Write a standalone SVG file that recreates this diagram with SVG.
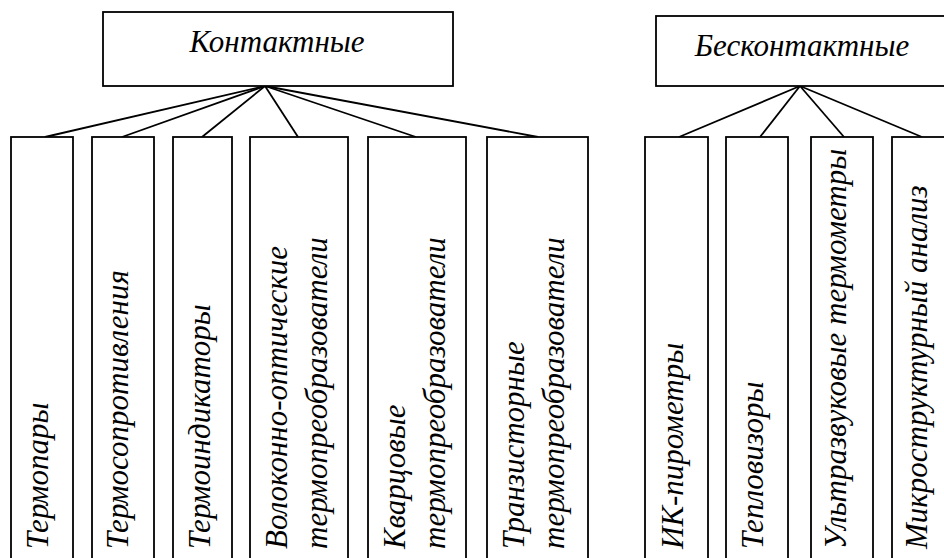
<svg xmlns="http://www.w3.org/2000/svg" width="944" height="558" viewBox="0 0 944 558">
<rect width="944" height="558" fill="#fff"/>
<g id="connectors" stroke="#000" stroke-width="1.8" fill="none">
<line x1="265" y1="86" x2="45" y2="137"/>
<line x1="265" y1="86" x2="122" y2="137"/>
<line x1="265" y1="86" x2="202" y2="137"/>
<line x1="265" y1="86" x2="298" y2="137"/>
<line x1="265" y1="86" x2="416" y2="137"/>
<line x1="265" y1="86" x2="538" y2="137"/>
<line x1="800" y1="86" x2="679" y2="137"/>
<line x1="800" y1="86" x2="760" y2="137"/>
<line x1="800" y1="86" x2="844" y2="137"/>
<line x1="800" y1="86" x2="922" y2="137"/>
</g>
<g id="contact">
<rect x="103" y="12" width="350" height="74" fill="#fff" stroke="#000" stroke-width="1.8"/>
<text x="277" y="52" text-anchor="middle" font-family="Times New Roman" font-style="italic" font-size="31" fill="#000">Контактные</text>
</g>
<g id="noncontact">
<rect x="656" y="16" width="300" height="70" fill="#fff" stroke="#000" stroke-width="1.8"/>
<text x="802" y="56" text-anchor="middle" font-family="Times New Roman" font-style="italic" font-size="31" fill="#000">Бесконтактные</text>
</g>
<g id="n1">
<rect x="11" y="137" width="62" height="440" fill="#fff" stroke="#000" stroke-width="1.8"/>
<text transform="translate(48,549) rotate(-90)" font-family="Times New Roman" font-style="italic" font-size="31" fill="#000">Термопары</text>
</g>
<g id="n2">
<rect x="92" y="137" width="62" height="440" fill="#fff" stroke="#000" stroke-width="1.8"/>
<text transform="translate(128,549) rotate(-90)" font-family="Times New Roman" font-style="italic" font-size="31" fill="#000">Термосопротивления</text>
</g>
<g id="n3">
<rect x="173" y="137" width="59" height="440" fill="#fff" stroke="#000" stroke-width="1.8"/>
<text transform="translate(210,549) rotate(-90)" font-family="Times New Roman" font-style="italic" font-size="31" fill="#000">Термоиндикаторы</text>
</g>
<g id="n4">
<rect x="250" y="137" width="98" height="440" fill="#fff" stroke="#000" stroke-width="1.8"/>
<text transform="translate(287,549) rotate(-90)" font-family="Times New Roman" font-style="italic" font-size="31" fill="#000">Волоконно-оптические</text>
<text transform="translate(327,549) rotate(-90)" font-family="Times New Roman" font-style="italic" font-size="31" fill="#000">термопреобразователи</text>
</g>
<g id="n5">
<rect x="368" y="137" width="98" height="440" fill="#fff" stroke="#000" stroke-width="1.8"/>
<text transform="translate(405,549) rotate(-90)" font-family="Times New Roman" font-style="italic" font-size="31" fill="#000">Кварцовые</text>
<text transform="translate(445,549) rotate(-90)" font-family="Times New Roman" font-style="italic" font-size="31" fill="#000">термопреобразователи</text>
</g>
<g id="n6">
<rect x="487" y="137" width="101" height="440" fill="#fff" stroke="#000" stroke-width="1.8"/>
<text transform="translate(524,549) rotate(-90)" font-family="Times New Roman" font-style="italic" font-size="31" fill="#000">Транзисторные</text>
<text transform="translate(564,549) rotate(-90)" font-family="Times New Roman" font-style="italic" font-size="31" fill="#000">термопреобразователи</text>
</g>
<g id="n7">
<rect x="645" y="137" width="63" height="440" fill="#fff" stroke="#000" stroke-width="1.8"/>
<text transform="translate(683,549) rotate(-90)" font-family="Times New Roman" font-style="italic" font-size="31" fill="#000">ИК-пирометры</text>
</g>
<g id="n8">
<rect x="726" y="137" width="62" height="440" fill="#fff" stroke="#000" stroke-width="1.8"/>
<text transform="translate(763,549) rotate(-90)" font-family="Times New Roman" font-style="italic" font-size="31" fill="#000">Тепловизоры</text>
</g>
<g id="n9">
<rect x="811" y="137" width="62" height="440" fill="#fff" stroke="#000" stroke-width="1.8"/>
<text transform="translate(846,549) rotate(-90)" font-family="Times New Roman" font-style="italic" font-size="31" fill="#000">Ультразвуковые термометры</text>
</g>
<g id="n10">
<rect x="892" y="137" width="70" height="440" fill="#fff" stroke="#000" stroke-width="1.8"/>
<text transform="translate(927,549) rotate(-90)" font-family="Times New Roman" font-style="italic" font-size="31" fill="#000">Микроструктурный анализ</text>
</g>
</svg>
